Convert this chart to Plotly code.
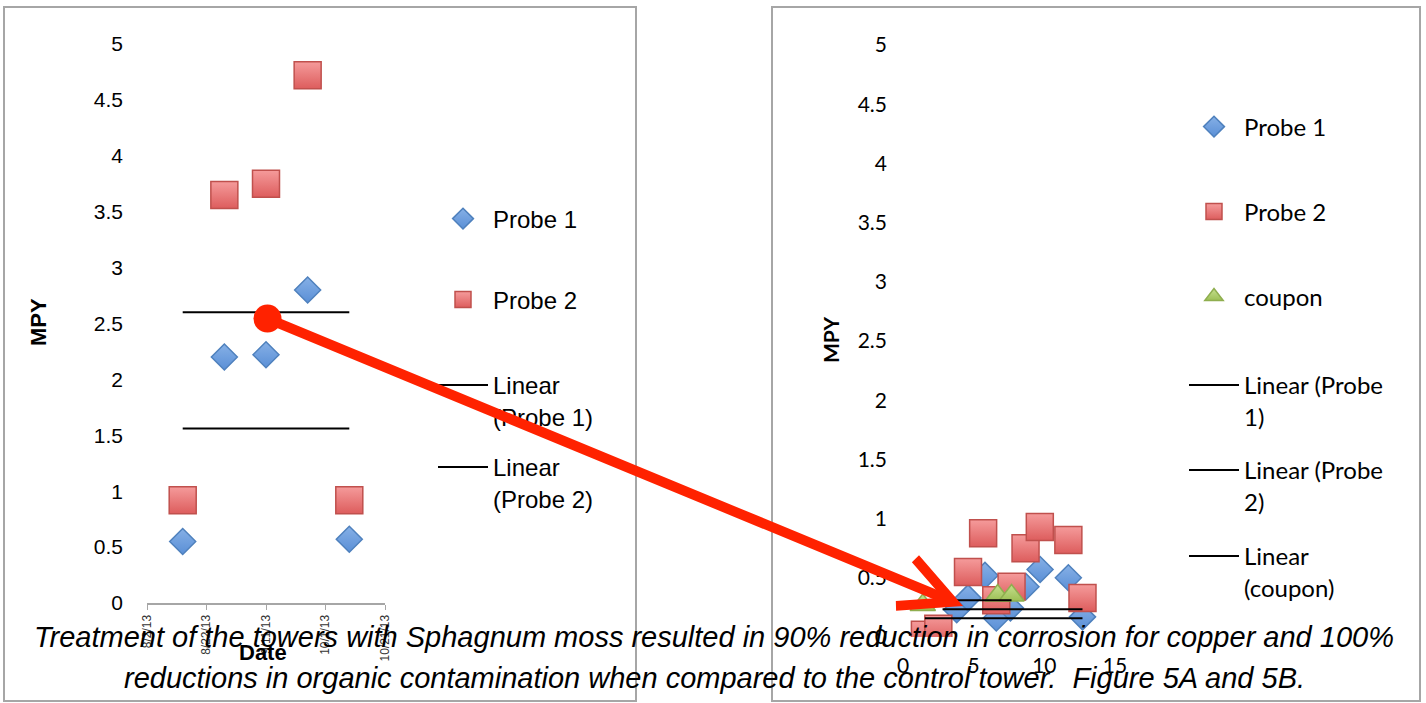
import plotly.graph_objects as go

W, H = 1426, 703

# --- data: panel A (dates) ---
a_dates = ["2013-08-14", "2013-08-28", "2013-09-11", "2013-09-25", "2013-10-09"]
a_probe1 = [0.55, 2.20, 2.22, 2.80, 0.57]
a_probe2 = [0.92, 3.65, 3.75, 4.72, 0.92]
a_trend_x = ["2013-08-14", "2013-10-09"]
a_trend1 = [1.56, 1.56]
a_trend2 = [2.60, 2.60]
date_ticks = ["2013-08-02", "2013-08-22", "2013-09-11", "2013-10-01", "2013-10-21"]
date_labels = ["8/2/13", "8/22/13", "9/11/13", "10/1/13", "10/21/13"]

# --- data: panel B ---
b_probe1_x = [3.8, 4.6, 5.8, 6.6, 7.6, 8.7, 9.7, 11.7, 12.7]
b_probe1 = [0.23, 0.33, 0.52, 0.16, 0.245, 0.425, 0.57, 0.50, 0.17]
b_probe2_x = [1.55, 2.5, 4.6, 5.67, 6.6, 7.68, 8.67, 9.68, 11.7, 12.7]
b_probe2 = [0.02, 0.07, 0.55, 0.876, 0.31, 0.425, 0.75, 0.93, 0.82, 0.33]
b_coupon_x = [1.4, 6.7, 7.68]
b_coupon = [0.27, 0.35, 0.35]
b_trend1_x = [2.8, 12.7]
b_trend1 = [0.234, 0.234]
b_trend2_x = [1.55, 12.7]
b_trend2 = [0.158, 0.158]
b_trendc_x = [1.55, 7.68]
b_trendc = [0.31, 0.31]
b_xticks = [0, 5, 10, 15]

mpy_ticks = [0, 0.5, 1, 1.5, 2, 2.5, 3, 3.5, 4, 4.5, 5]
mpy_labels = ["0", "0.5", "1", "1.5", "2", "2.5", "3", "3.5", "4", "4.5", "5"]

caption = ["Treatment of the towers with Sphagnum moss resulted in 90% reduction in corrosion for copper and 100%",
           "reductions in organic contamination when compared to the control tower.  Figure 5A and 5B."]


def fx(px):
    return px / W


def fy(py):
    return 1 - py / H


ARIAL = "Liberation Sans, Arial, sans-serif"
CALIBRI = "Lato, Open Sans, sans-serif"

diamond = dict(symbol="diamond", size=20, color="#86b0e6",
               gradient=dict(type="vertical", color="#5a8fd6"),
               line=dict(color="#4f81bd", width=1.5))
square = dict(symbol="square", size=27, color="#f59b9b",
              gradient=dict(type="vertical", color="#dd5d5d"),
              line=dict(color="#c0504d", width=1.5))
triangle = dict(symbol="triangle-up", size=22, color="#c6df8e",
                gradient=dict(type="vertical", color="#9cbf55"),
                line=dict(color="#8fae4f", width=1.5))
trend_line = dict(color="black", width=2)

fig = go.Figure()

# panel A
fig.add_trace(go.Scatter(x=a_dates, y=a_probe1, mode="markers", marker=diamond,
                         name="Probe 1", legend="legend", xaxis="x", yaxis="y"))
fig.add_trace(go.Scatter(x=a_dates, y=a_probe2, mode="markers", marker=square,
                         name="Probe 2", legend="legend2", xaxis="x", yaxis="y"))
fig.add_trace(go.Scatter(x=a_trend_x, y=a_trend1, mode="lines", line=trend_line,
                         name="Linear<br>(Probe 1)", legend="legend3", xaxis="x", yaxis="y"))
fig.add_trace(go.Scatter(x=a_trend_x, y=a_trend2, mode="lines", line=trend_line,
                         name="Linear<br>(Probe 2)", legend="legend4", xaxis="x", yaxis="y"))

# panel B
fig.add_trace(go.Scatter(x=b_probe1_x, y=b_probe1, mode="markers", marker=diamond,
                         name="Probe 1", legend="legend5", xaxis="x2", yaxis="y2"))
fig.add_trace(go.Scatter(x=b_probe2_x, y=b_probe2, mode="markers", marker=square,
                         name="Probe 2", legend="legend6", xaxis="x2", yaxis="y2"))
fig.add_trace(go.Scatter(x=b_coupon_x, y=b_coupon, mode="markers", marker=triangle,
                         name="coupon", legend="legend7", xaxis="x2", yaxis="y2"))
fig.add_trace(go.Scatter(x=b_trend1_x, y=b_trend1, mode="lines", line=trend_line,
                         name="Linear (Probe<br>1)", legend="legend8", xaxis="x2", yaxis="y2"))
fig.add_trace(go.Scatter(x=b_trend2_x, y=b_trend2, mode="lines", line=trend_line,
                         name="Linear (Probe<br>2)", legend="legend9", xaxis="x2", yaxis="y2"))
fig.add_trace(go.Scatter(x=b_trendc_x, y=b_trendc, mode="lines", line=trend_line,
                         name="Linear<br>(coupon)", legend="legend10", xaxis="x2", yaxis="y2"))


def legend_at(px, py, family):
    return dict(x=fx(px), y=fy(py), xanchor="left", yanchor="middle", visible=True,
                bgcolor="rgba(0,0,0,0)", borderwidth=0, itemwidth=50,
                valign="top", font=dict(family=family, size=24, color="black"))


legends = {}
# (left edge, vertical centre of text block)
a_leg = [(433, 219), (433, 300), (433, 401), (433, 483)]
b_leg = [(1184, 127), (1184, 212), (1184, 297), (1184, 401), (1184, 486), (1184, 572)]
for i, (px, py) in enumerate(a_leg + b_leg):
    key = "legend" if i == 0 else f"legend{i + 1}"
    legends[key] = legend_at(px, py, ARIAL if i < 4 else CALIBRI)

# borders
shapes = [
    dict(type="rect", xref="paper", yref="paper", x0=fx(4), x1=fx(636), y0=fy(701), y1=fy(7),
         line=dict(color="#a6a6a6", width=2), layer="below"),
    dict(type="rect", xref="paper", yref="paper", x0=fx(772), x1=fx(1420), y0=fy(701), y1=fy(7),
         line=dict(color="#a6a6a6", width=2), layer="below"),
]

annotations = [
    dict(x=38, y=322, xref="x3", yref="y3", text="<b>MPY</b>", textangle=-90, showarrow=False,
         font=dict(family=ARIAL, size=22, color="black")),
    dict(x=263, y=652, xref="x3", yref="y3", text="<b>Date</b>", showarrow=False,
         font=dict(family=ARIAL, size=22, color="black")),
    dict(x=830, y=340, xref="x3", yref="y3", text="<b>MPY</b>", textangle=-90, showarrow=False,
         font=dict(family=CALIBRI, size=21, color="black")),
    # red arrow
    dict(x=963, y=606, xref="x3", yref="y3", ax=266, ay=318, axref="x3", ayref="y3",
         text="", showarrow=True, arrowhead=5, arrowsize=1, arrowwidth=10, arrowcolor="#ff2200",
         startarrowhead=6, startarrowsize=0.7, arrowside="end+start", standoff=0, startstandoff=0),
]
for i, line in enumerate(caption):
    annotations.append(dict(x=714, y=637 + 41 * i, xref="x3", yref="y3", text=f"<i>{line}</i>",
                            showarrow=False, font=dict(family=ARIAL, size=29, color="black")))

fig.update_layout(
    width=W, height=H, margin=dict(l=0, r=0, t=0, b=0, autoexpand=False), showlegend=True,
    paper_bgcolor="white", plot_bgcolor="rgba(0,0,0,0)",
    shapes=shapes, annotations=annotations,
    xaxis=dict(domain=[fx(147), fx(385)], type="date", range=["2013-08-02", "2013-10-21"],
               tickvals=date_ticks, ticktext=date_labels, tickangle=-90,
               tickfont=dict(family=ARIAL, size=12, color="#333"),
               showline=True, linecolor="#a6a6a6", linewidth=2, ticks="outside", ticklen=5,
               tickcolor="#a6a6a6", showgrid=False, zeroline=False, anchor="y", automargin=False),
    yaxis=dict(domain=[fy(603), fy(44)], range=[0, 5], tickvals=mpy_ticks, ticktext=mpy_labels,
               tickfont=dict(family=ARIAL, size=21, color="black"), ticklabelstandoff=23,
               showgrid=False, zeroline=False, showline=False, anchor="x", automargin=False),
    xaxis2=dict(domain=[fx(903), fx(1115)], range=[0, 15], tickvals=b_xticks,
                tickfont=dict(family=CALIBRI, size=21, color="black"), ticklabelstandoff=14,
                showgrid=False, zeroline=False, showline=False, anchor="y2", automargin=False),
    yaxis2=dict(domain=[fy(637), fy(45)], range=[0, 5], tickvals=mpy_ticks, ticktext=mpy_labels,
                tickfont=dict(family=CALIBRI, size=21, color="black"), ticklabelstandoff=15,
                showgrid=False, zeroline=False, showline=False, anchor="x2", automargin=False),
    xaxis3=dict(domain=[0, 1], range=[0, W], visible=False, anchor="y3", automargin=False),
    yaxis3=dict(domain=[0, 1], range=[H, 0], visible=False, anchor="x3", automargin=False),
    **legends,
)

# drop the page's default body margin so the figure sits at the window corner
fig.write_html("out.html", config={"displayModeBar": False},
               post_script="document.body.style.margin='0';")
